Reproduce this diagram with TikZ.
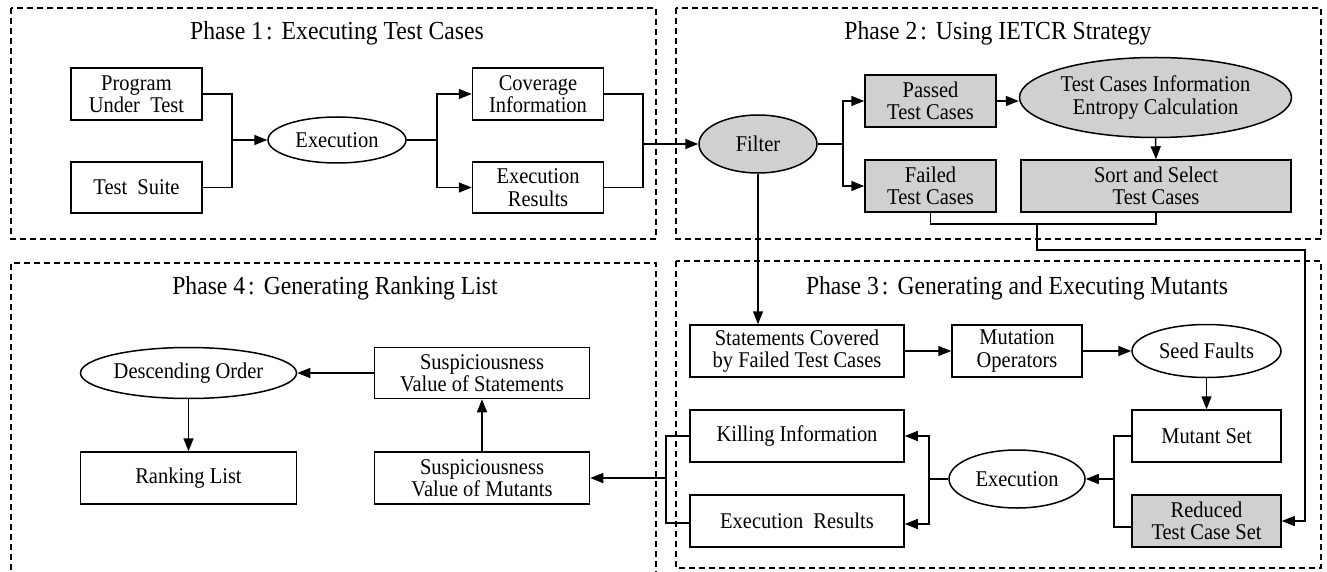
\documentclass[tikz,border=0pt]{standalone}
\usepackage{fontspec}
\setmainfont{Liberation Serif}
\newfontfamily\nfont[FakeStretch=0.91]{Liberation Serif}
\usetikzlibrary{arrows.meta,shapes.geometric}
\definecolor{boxgray}{RGB}{208,208,208}
\tikzset{
  box/.style={draw=black, line width=1.5pt, rectangle, align=center, inner sep=0pt,
    font=\nfont\fontsize{22.5}{22.5}\selectfont},
  oval/.style={draw=black, line width=1.5pt, ellipse, align=center, inner sep=0pt,
    font=\nfont\fontsize{22.5}{22.5}\selectfont},
  shaded/.style={fill=boxgray},
  title/.style={font=\nfont\fontsize{26}{27}\selectfont, inner sep=0pt},
  phase/.style={draw=black, line width=1.2pt, dash pattern=on 6pt off 4pt},
  conn/.style={draw=black, line width=1.5pt},
  arr/.style={conn, -{Triangle[length=13pt,width=10pt]}}
}
\begin{document}
\begin{tikzpicture}[x=1pt, y=-1pt]
\useasboundingbox (0,0) rectangle (1327,572);
% phase frames
\draw[phase] (11,8) rectangle (656,239);
\draw[phase] (676,8) rectangle (1321,239);
\draw[phase] (11,590) -- (11,263) -- (656,263) -- (656,590);
\draw[phase] (676,261) rectangle (1321,568);
% titles
\node[title] (t1) at (337,33) {Phase 1\hspace{3pt}:\hspace{9pt}Executing Test Cases};
\node[title] (t2) at (998,33) {Phase 2\hspace{3pt}:\hspace{9pt}Using IETCR Strategy};
\node[title] (t3) at (1017,288) {Phase 3\hspace{3pt}:\hspace{9pt}Generating and Executing Mutants};
\node[title] (t4) at (335,288) {Phase 4\hspace{3pt}:\hspace{9pt}Generating Ranking List};
% Phase 1
\node[box, minimum width=131pt, minimum height=52pt] (prog) at (136.5,94) {Program\\Under\ \ Test};
\node[box, minimum width=131pt, minimum height=51pt] (suite) at (136.5,187.5) {Test\ \ Suite};
\node[oval, minimum width=138pt, minimum height=46pt] (exec1) at (337,140) {Execution};
\node[box, minimum width=131pt, minimum height=52pt] (cov) at (538,94) {Coverage\\Information};
\node[box, minimum width=131pt, minimum height=51pt] (res1) at (538,187.5) {Execution\\Results};
% Phase 2
\node[oval, shaded, minimum width=118pt, minimum height=58pt] (filter) at (758,144) {Filter};
\node[box, shaded, minimum width=131pt, minimum height=52pt] (passed) at (930.5,101) {Passed\\Test Cases};
\node[box, shaded, minimum width=131pt, minimum height=52pt] (failed) at (930.5,186) {Failed\\Test Cases};
\node[oval, shaded, minimum width=272pt, minimum height=80pt] (entropy) at (1155.5,97.5) {Test Cases Information\\Entropy Calculation};
\node[box, shaded, minimum width=270pt, minimum height=52pt] (sort) at (1156,186) {Sort and Select\\Test Cases};
% Phase 3
\node[box, minimum width=214pt, minimum height=52pt] (stmt) at (797,351) {Statements Covered\\by Failed Test Cases};
\node[box, minimum width=130pt, minimum height=52pt] (mut) at (1017,351) {Mutation\\Operators};
\node[oval, minimum width=149pt, minimum height=53pt] (seed) at (1206.5,351) {Seed Faults};
\node[box, minimum width=149pt, minimum height=52pt] (mset) at (1206.5,436) {Mutant Set};
\node[box, shaded, minimum width=149pt, minimum height=52pt] (reduced) at (1206.5,521) {Reduced\\Test Case Set};
\node[oval, minimum width=136pt, minimum height=58pt] (exec3) at (1017,479) {Execution};
\node[box, minimum width=214pt, minimum height=52pt] (kill) at (797,436) {Killing Information};
\node[box, minimum width=214pt, minimum height=52pt] (res3) at (797,521) {Execution\ \ Results};
% Phase 4
\node[oval, minimum width=216pt, minimum height=51pt] (desc) at (188.5,373) {Descending Order};
\node[box, minimum width=216pt, minimum height=52pt] (rank) at (188.5,478) {Ranking List};
\node[box, minimum width=215pt, minimum height=51pt] (sstat) at (482,373) {Suspiciousness\\Value of Statements};
\node[box, minimum width=215pt, minimum height=52pt] (smut) at (482,478) {Suspiciousness\\Value of Mutants};
% junction coordinates
\coordinate (j1) at (232,140);
\coordinate (j2) at (437,140);
\coordinate (j3) at (643,144);
\coordinate (j4) at (843,144);
\coordinate (j5) at (1037,224);
\coordinate (c1) at (1305,250);
\coordinate (j6) at (1114,479);
\coordinate (j7) at (929,479);
\coordinate (j8) at (666,478);
% Phase 1 connectors
\draw[conn] (prog.east) -| (j1);
\draw[conn] (suite.east) -| (j1);
\draw[arr] (j1) -- (exec1.west);
\draw[conn] (exec1.east) -- (j2);
\draw[arr] (j2) |- (cov.west);
\draw[arr] (j2) |- (res1.west);
\draw[conn] (cov.east) -| (j3);
\draw[conn] (res1.east) -| (j3);
\draw[arr] (j3) -- (filter.west);
% Phase 2 connectors
\draw[conn] (filter.east) -- (j4);
\draw[arr] (j4) |- (passed.west);
\draw[arr] (j4) |- (failed.west);
\draw[arr] (passed.east) -- (passed.east -| entropy.west);
\draw[arr] (entropy.south) -- (sort.north);
\draw[conn] (failed.south) |- (j5);
\draw[conn] (sort.south) |- (j5);
\draw[arr] (j5) |- (c1) |- (reduced.east);
\draw[arr] (filter.south) -- (filter.south |- stmt.north);
% Phase 3 connectors
\draw[arr] (stmt.east) -- (mut.west);
\draw[arr] (mut.east) -- (seed.west);
\draw[arr] (seed.south) -- (mset.north);
\draw[conn] (mset.west) -| (j6);
\draw[conn] ([yshift=-6pt]reduced.west) -| (j6);
\draw[arr] (j6) -- (exec3.east);
\draw[conn] (exec3.west) -- (j7);
\draw[arr] (j7) |- (kill.east);
\draw[arr] (j7) |- ([yshift=-3pt]res3.east);
\draw[conn] (kill.west) -| (j8);
\draw[conn] ([yshift=-2pt]res3.west) -| (j8);
\draw[arr] (j8) -- (smut.east);
% Phase 4 connectors
\draw[arr] (sstat.west) -- (desc.east);
\draw[arr] (desc.south) -- (rank.north);
\draw[arr] (smut.north) -- (sstat.south);
\end{tikzpicture}
\end{document}
